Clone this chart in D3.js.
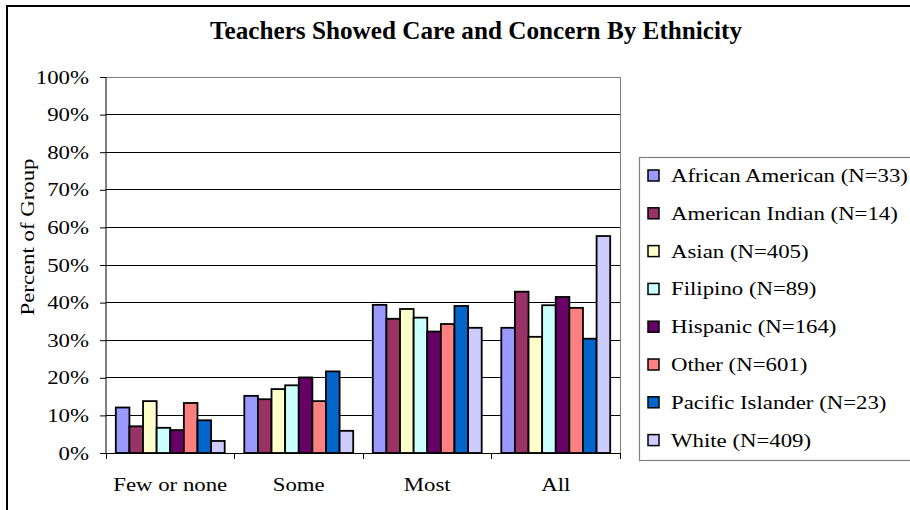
<!DOCTYPE html>
<html>
<head>
<meta charset="utf-8">
<script src="https://cdn.jsdelivr.net/npm/d3@7"></script>
<style>
  html, body { margin: 0; padding: 0; background: #fff; }
  svg { display: block; }
  svg text { font-family: "Liberation Serif", "Times New Roman", serif; fill: #000; }
</style>
</head>
<body>
<svg id="chart" width="910" height="510"></svg>
<script>
// Response categories on the x axis
const categories = ["Few or none", "Some", "Most", "All"];

// Ethnic groups (legend order) and their fill colours
const groups = [
  "African American (N=33)",
  "American Indian (N=14)",
  "Asian (N=405)",
  "Filipino (N=89)",
  "Hispanic (N=164)",
  "Other (N=601)",
  "Pacific Islander (N=23)",
  "White (N=409)"
];
const colors = ["#9999FF", "#993366", "#FFFFCC", "#CCFFFF", "#660066", "#FF8080", "#0066CC", "#CCCCFF"];

// Percent of each group, per category
const africanAmerican = [12.1, 15.2, 39.4, 33.3];
const americanIndian  = [7.1, 14.3, 35.7, 42.9];
const asian           = [13.8, 17.0, 38.3, 30.9];
const filipino        = [6.7, 18.0, 36.0, 39.3];
const hispanic        = [6.1, 20.1, 32.3, 41.5];
const other           = [13.3, 13.8, 34.3, 38.6];
const pacificIslander = [8.7, 21.7, 39.1, 30.4];
const white           = [3.2, 5.9, 33.3, 57.7];

const yTicks = [0, 10, 20, 30, 40, 50, 60, 70, 80, 90, 100];

const seriesValues = [africanAmerican, americanIndian, asian, filipino, hispanic, other, pacificIslander, white];

const FONT = "Liberation Serif, Times New Roman, serif";
const WIDE = 1.2; // horizontal stretch of the body text

// Widen text glyphs horizontally while keeping their anchor
function widen(sel, k) {
  sel.each(function () {
    const w = this.getComputedTextLength();
    d3.select(this).attr("textLength", w * k).attr("lengthAdjust", "spacingAndGlyphs");
  });
}

const svg = d3.select("#chart");

// Outer chart frame
svg.append("rect")
  .attr("x", 7).attr("y", 6)
  .attr("width", 930).attr("height", 530)
  .attr("fill", "#fff")
  .attr("stroke", "#000").attr("stroke-width", 2);

// Title
svg.append("text")
  .attr("x", 476).attr("y", 38.5)
  .attr("text-anchor", "middle")
  .attr("font-family", FONT)
  .attr("font-size", 25).attr("font-weight", "bold")
  .attr("textLength", 532).attr("lengthAdjust", "spacingAndGlyphs")
  .text("Teachers Showed Care and Concern By Ethnicity");

const plot = { left: 106, right: 620, top: 77, bottom: 453 };

const x0 = d3.scaleBand().domain(categories).range([plot.left, plot.right]).paddingInner(0).paddingOuter(0);
const x1 = d3.scaleBand().domain(d3.range(groups.length))
  .range([0, x0.bandwidth()]).paddingInner(0).paddingOuter(0.72);
const y = d3.scaleLinear().domain([0, 100]).range([plot.bottom, plot.top]);

// Gridlines
svg.append("g")
  .selectAll("line")
  .data(yTicks.filter(t => t > 0))
  .join("line")
  .attr("x1", plot.left).attr("x2", plot.right)
  .attr("y1", d => y(d)).attr("y2", d => y(d))
  .attr("stroke", d => d === 100 ? "#808080" : "#000")
  .attr("stroke-width", 1)
  .attr("shape-rendering", "crispEdges");

// Plot area right border
svg.append("line")
  .attr("x1", plot.right).attr("x2", plot.right)
  .attr("y1", plot.top).attr("y2", plot.bottom)
  .attr("stroke", "#808080").attr("shape-rendering", "crispEdges");

// Bars
const rows = categories.map((c, ci) => ({
  category: c,
  values: seriesValues.map((s, si) => ({ si, v: s[ci] }))
}));

svg.append("g")
  .selectAll("g")
  .data(rows)
  .join("g")
  .attr("transform", d => `translate(${x0(d.category)},0)`)
  .selectAll("rect")
  .data(d => d.values)
  .join("rect")
  .attr("x", d => x1(d.si))
  .attr("width", x1.bandwidth())
  .attr("y", d => y(d.v))
  .attr("height", d => y(0) - y(d.v))
  .attr("fill", d => colors[d.si])
  .attr("stroke", "#000")
  .attr("stroke-width", 1.8);

// Y axis
const yAxis = d3.axisLeft(y)
  .tickValues(yTicks)
  .tickFormat(d => d + "%")
  .tickSize(6)
  .tickPadding(11);
const gy = svg.append("g")
  .attr("transform", `translate(${plot.left},0)`)
  .call(yAxis)
  .attr("font-family", FONT);
gy.select(".domain").attr("stroke", "#000").attr("d", `M0,${plot.top}V${plot.bottom}`);
gy.selectAll(".tick line").attr("stroke", "#000");
gy.selectAll(".tick text")
  .attr("font-family", FONT)
  .attr("font-size", 19).attr("fill", "#000")
  .call(widen, WIDE);

// X axis: ticks at category boundaries, labels centred in each band
const gx = svg.append("g").attr("transform", `translate(0,${plot.bottom})`);
gx.append("line")
  .attr("x1", plot.left).attr("x2", plot.right)
  .attr("y1", 0).attr("y2", 0)
  .attr("stroke", "#000").attr("shape-rendering", "crispEdges");
const boundaries = categories.map(c => x0(c)).concat([plot.right]);
gx.selectAll("line.tick")
  .data(boundaries)
  .join("line")
  .attr("class", "tick")
  .attr("x1", d => d).attr("x2", d => d)
  .attr("y1", 0).attr("y2", 6)
  .attr("stroke", "#000").attr("shape-rendering", "crispEdges");
gx.selectAll("text")
  .data(categories)
  .join("text")
  .attr("x", d => x0(d) + x0.bandwidth() / 2)
  .attr("y", 38)
  .attr("text-anchor", "middle")
  .attr("font-family", FONT)
  .attr("font-size", 19)
  .text(d => d)
  .call(widen, WIDE);

// Y axis title
svg.append("text")
  .attr("transform", `translate(34,${(plot.top + plot.bottom) / 2 - 28}) rotate(-90)`)
  .attr("text-anchor", "middle")
  .attr("font-family", FONT)
  .attr("font-size", 19)
  .text("Percent of Group")
  .call(widen, WIDE);

// Legend
const legend = svg.append("g");
legend.append("rect")
  .attr("x", 639.5).attr("y", 157.5)
  .attr("width", 300).attr("height", 303)
  .attr("fill", "#fff")
  .attr("stroke", "#808080").attr("stroke-width", 1.2);

const item = legend.selectAll("g.item")
  .data(groups)
  .join("g")
  .attr("class", "item")
  .attr("transform", (d, i) => `translate(648,${170 + i * 37.8})`);
item.append("rect")
  .attr("width", 11).attr("height", 11)
  .attr("fill", (d, i) => colors[i])
  .attr("stroke", "#000").attr("stroke-width", 1.5);
item.append("text")
  .attr("x", 23).attr("y", 12)
  .attr("font-family", FONT)
  .attr("font-size", 19)
  .text(d => d)
  .call(widen, WIDE);
</script>
</body>
</html>
